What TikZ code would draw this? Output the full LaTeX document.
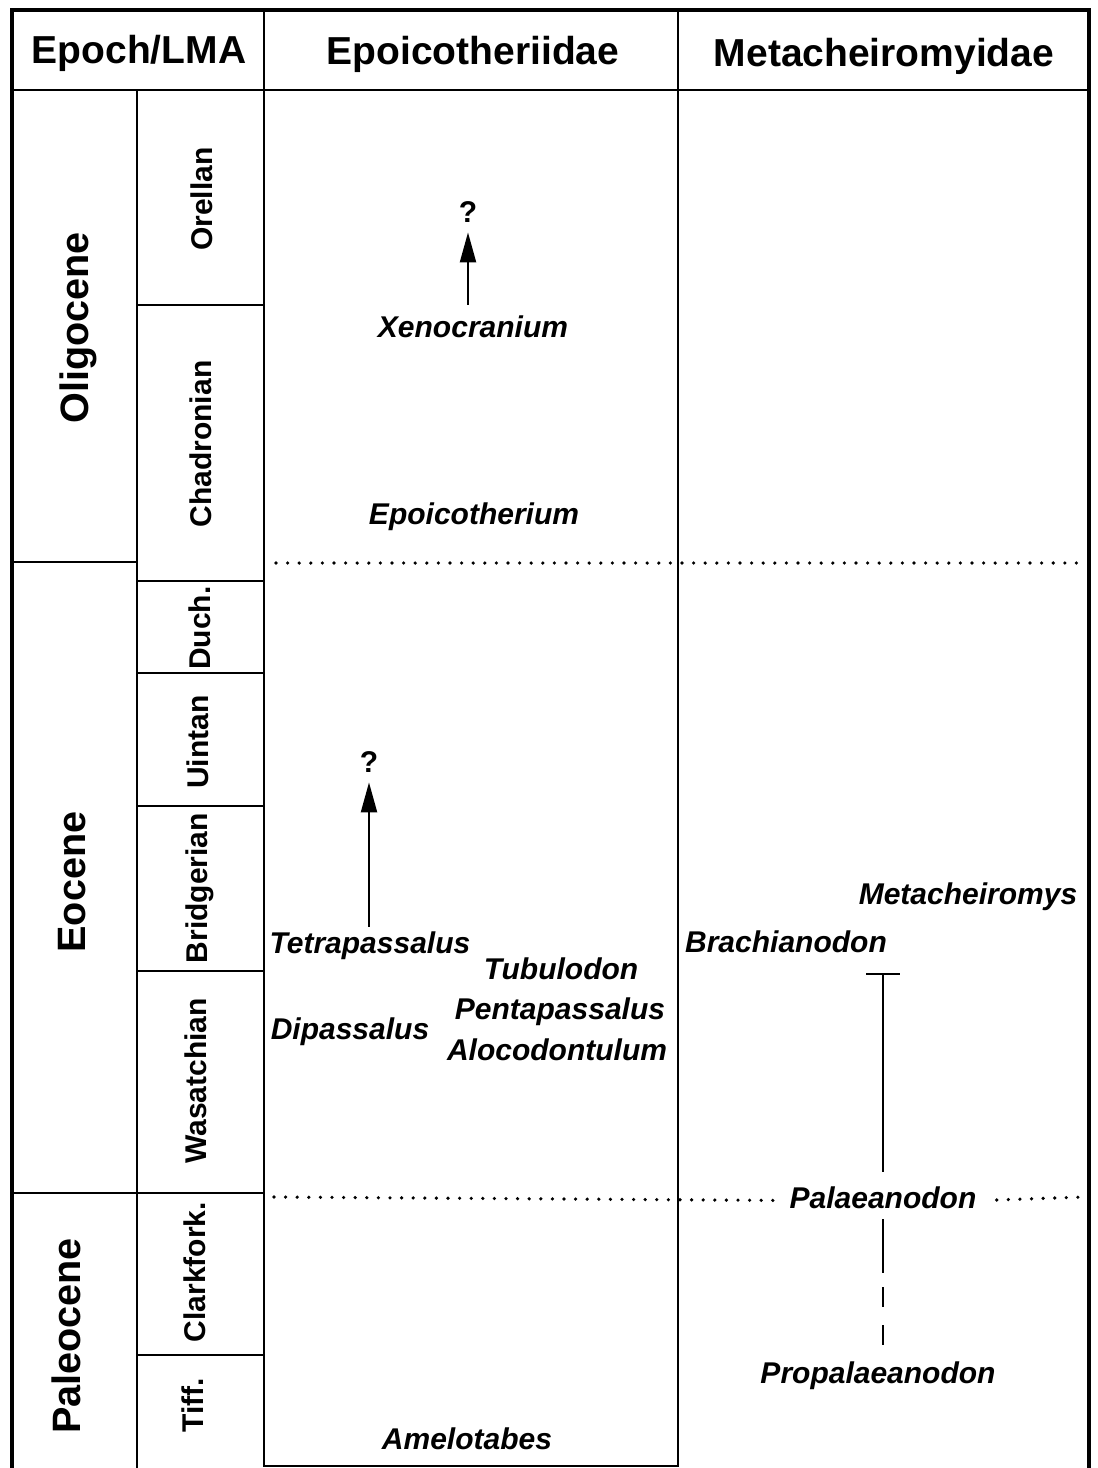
\documentclass[tikz,border=0pt]{standalone}
\usepackage{fontspec}
\setmainfont{Liberation Sans}
\usetikzlibrary{arrows.meta}

\begin{document}
\begin{tikzpicture}
[x=0.5pt,y=-0.5pt,%
  frameDecorate/.style={line width=2pt},%
  gridDecorate/.style={line width=1.3pt},%
  headDecorate/.style={anchor=base,font=\fontsize{19.5}{23}\selectfont\bfseries},%
  epochDecorate/.style={anchor=base,rotate=90,font=\fontsize{19.8}{23}\selectfont\bfseries},%
  lmaDecorate/.style={anchor=base,rotate=90,font=\fontsize{15}{18}\selectfont\bfseries},%
  taxonDecorate/.style={anchor=base,inner sep=2pt,text height=11pt,text depth=3.5pt,%
    font=\fontsize{15}{18}\selectfont\bfseries\itshape},%
  queryDecorate/.style={anchor=base,inner sep=2pt,font=\fontsize{15}{17}\selectfont\bfseries},%
  lineDecorate/.style={-,line width=1.1pt},%
  arrowDecorate/.style={line width=1.1pt,-{Triangle[length=15pt,width=8pt]},shorten >=3pt},%
  dotDecorate/.style={line width=1.8pt,line cap=round,dash pattern=on 0pt off 5.8pt}]
\useasboundingbox (0,0) rectangle (1098,1468);
%% frame and columns
\draw[frameDecorate] (12,1468) -- (12,10) -- (1089,10) -- (1089,1468);
\draw[gridDecorate] (12,90) -- (1089,90);
\draw[gridDecorate] (264,10) -- (264,1466) -- (678,1466) -- (678,10);
\draw[gridDecorate] (137,90) -- (137,1468);
\draw[gridDecorate] (12,562) -- (137,562);
\draw[gridDecorate] (12,1193) -- (264,1193);
\foreach \y in {305,581,673,806,971,1355}
{
  \draw[gridDecorate] (137,\y) -- (264,\y);
}
%% headings
\node (epochhead) at (139,63) [headDecorate] {Epoch/LMA};
\node (epoicohead) at (473,64) [headDecorate] {Epoicotheriidae};
\node (metahead) at (884,66) [headDecorate] {Metacheiromyidae};
%% epochs
\foreach \nodename/\label/\x/\y in {
  oligocene/Oligocene/88/328, eocene/Eocene/85/882, paleocene/Paleocene/80/1336}
{
  \node (\nodename) at (\x,\y) [epochDecorate] {\label};
}
%% land mammal ages
\foreach \nodename/\label/\x/\y in {
  orellan/Orellan/212/199, chadronian/Chadronian/211/444, duchesnean/Duch./210/628,
  uintan/Uintan/208/742, bridgerian/Bridgerian/207/888, wasatchian/Wasatchian/206/1081,
  clarkforkian/Clarkfork./205/1272, tiffanian/Tiff./203/1405}
{
  \node (\nodename) at (\x,\y) [lmaDecorate] {\label};
}
%% boundaries
\draw[dotDecorate] (276,563) -- (1084,563);
%% taxa
\foreach \nodename/\label/\x/\y in {
  xenocranium/Xenocranium/473/337, epoicotherium/Epoicotherium/474/524,
  tetrapassalus/Tetrapassalus/370/953, tubulodon/Tubulodon/561/979,
  dipassalus/Dipassalus/350/1039, pentapassalus/Pentapassalus/560/1019,
  alocodontulum/Alocodontulum/557/1060, amelotabes/Amelotabes/467/1449,
  metacheiromys/Metacheiromys/968/904, brachianodon/Brachianodon/786/952,
  palaeanodon/Palaeanodon/883/1208, propalaeanodon/Propalaeanodon/878/1383}
{
  \node (\nodename) at (\x,\y) [taxonDecorate] {\label};
}
\node (queryA) at (468,222) [queryDecorate] {?};
\node (queryB) at (369,772) [queryDecorate] {?};
%% ranges
\draw[arrowDecorate,shorten <=3pt] (queryA |- xenocranium.north) -- (queryA);
\draw[arrowDecorate] (queryB |- tetrapassalus.north) -- (queryB);
\coordinate (brachitop) at (883,973);
\coordinate (palaeabreak) at (883,1273);
\draw[lineDecorate,{Bar[width=17pt]}-,shorten >=5pt] (brachitop) -- (palaeanodon);
\draw[lineDecorate] (palaeanodon) -- (palaeabreak);
\draw[lineDecorate,dash pattern=on 10pt off 9pt,shorten <=7pt,shorten >=5pt]
  (palaeabreak) -- (palaeabreak |- propalaeanodon.north);
\draw[dotDecorate,shorten >=6pt] (274,1197) -- (palaeanodon.west);
\draw[dotDecorate,shorten <=8pt] (palaeanodon.east) -- (1084,1197);
\end{tikzpicture}
\end{document}
